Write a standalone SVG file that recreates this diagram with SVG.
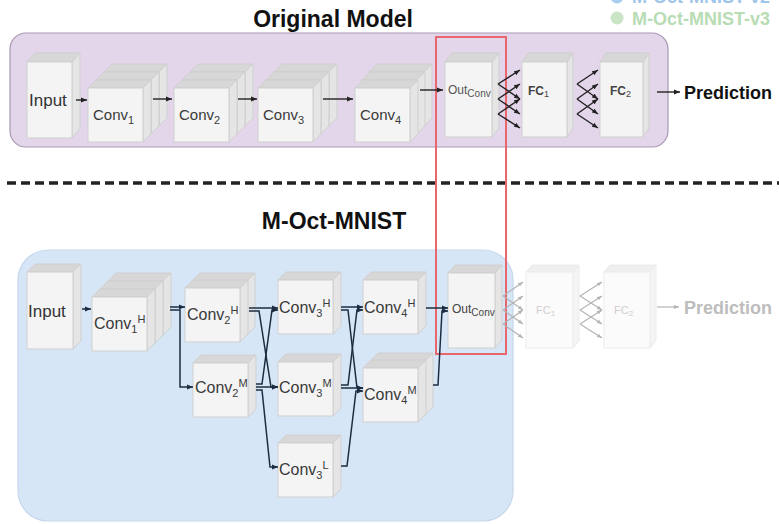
<svg xmlns="http://www.w3.org/2000/svg" xmlns:xlink="http://www.w3.org/1999/xlink" width="779" height="524" viewBox="0 0 779 524">
  <style>
    text { font-family: "Liberation Sans", Arial, sans-serif; }
    .front { fill: #f4f4f4; stroke: #cfcfcf; stroke-width: 1; }
    .top { fill: #d7d7d7; stroke: #cfcfcf; stroke-width: 1; }
    .side { fill: #e5e5e5; stroke: #cfcfcf; stroke-width: 1; }
    .ffront { fill: #fbfbfb; stroke: #ececec; stroke-width: 1; }
    .ftop { fill: #efefef; stroke: #ececec; stroke-width: 1; }
    .fside { fill: #f4f4f4; stroke: #ececec; stroke-width: 1; }
    .lbl { fill: #3a3a3a; font-size: 15px; }
    .lblb { fill: #3a3a3a; font-size: 16px; }
    .title { fill: #111; font-size: 23px; font-weight: bold; text-anchor: middle; }
    .dark { fill: none; stroke: #222; stroke-width: 1.4; marker-end: url(#ahDark); }
    .navy { fill: none; stroke: #1c2d42; stroke-width: 1.5; marker-end: url(#ahNavy); }
    .grey { fill: none; stroke: #b4b4b4; stroke-width: 1.2; marker-end: url(#ahGrey); }
  </style>
  <defs>
    <marker id="ahDark" viewBox="0 0 10 10" refX="10" refY="5" markerWidth="6" markerHeight="6" markerUnits="userSpaceOnUse" orient="auto">
      <path d="M0,1 L10,5 L0,9 z" fill="#222"/>
    </marker>
    <marker id="ahNavy" viewBox="0 0 10 10" refX="10" refY="5" markerWidth="6" markerHeight="6" markerUnits="userSpaceOnUse" orient="auto">
      <path d="M0,1 L10,5 L0,9 z" fill="#1c2d42"/>
    </marker>
    <marker id="ahGrey" viewBox="0 0 10 10" refX="10" refY="5" markerWidth="5" markerHeight="5" markerUnits="userSpaceOnUse" orient="auto">
      <path d="M0,1 L10,5 L0,9 z" fill="#b4b4b4"/>
    </marker>
    <!-- one slab of a convolution block: front face 55x54, depth 8 -->
    <g id="cube">
      <polygon class="top" points="0,0 8,-8 63,-8 55,0"/>
      <polygon class="side" points="55,0 63,-8 63,46 55,54"/>
      <rect class="front" x="0" y="0" width="55" height="54"/>
    </g>
  </defs>

  <!-- legend (top right) -->
  <g id="legend">
    <circle cx="617" cy="-3" r="6.5" fill="#a9cdee"/>
    <text x="632" y="3" font-size="18" font-weight="bold" fill="#9fc6ea">M-Oct-MNIST-v2</text>
    <circle cx="617" cy="18" r="6.5" fill="#c9e5c6"/>
    <text x="632" y="25" font-size="18" font-weight="bold" fill="#b8dcb4">M-Oct-MNIST-v3</text>
  </g>

  <!-- panels -->
  <rect x="10" y="33" width="658" height="114" rx="16" fill="#e3d6ea" stroke="#a898b3" stroke-width="1.2"/>
  <rect x="18" y="250" width="495" height="271" rx="30" fill="#d7e6f7" stroke="#c6d7ec" stroke-width="1.2"/>
  <text class="title" x="333" y="27">Original Model</text>
  <text class="title" x="334" y="229">M-Oct-MNIST</text>
  <line x1="7" y1="183" x2="779" y2="183" stroke="#222" stroke-width="3.5" stroke-dasharray="9 5"/>

  <!-- ===== original model ===== -->
  <g id="orig-input">
    <polygon class="top" points="27,62 35,53 80,53 72,62"/>
    <polygon class="side" points="72,62 80,53 80,129 72,138"/>
    <rect class="front" x="27" y="62" width="45" height="76"/>
    <text x="29" y="106" font-size="17" fill="#333">Input</text>
  </g>
  <g id="orig-conv1">
    <use xlink:href="#cube" x="104" y="72"/><use xlink:href="#cube" x="96" y="80"/><use xlink:href="#cube" x="88" y="88"/>
    <text class="lbl" x="93" y="120">Conv<tspan font-size="11" dy="4">1</tspan></text>
  </g>
  <g id="orig-conv2">
    <use xlink:href="#cube" x="190" y="72"/><use xlink:href="#cube" x="182" y="80"/><use xlink:href="#cube" x="174" y="88"/>
    <text class="lbl" x="179" y="120">Conv<tspan font-size="11" dy="4">2</tspan></text>
  </g>
  <g id="orig-conv3">
    <use xlink:href="#cube" x="274" y="72"/><use xlink:href="#cube" x="266" y="80"/><use xlink:href="#cube" x="258" y="88"/>
    <text class="lbl" x="263" y="120">Conv<tspan font-size="11" dy="4">3</tspan></text>
  </g>
  <g id="orig-conv4">
    <use xlink:href="#cube" x="369" y="72"/><use xlink:href="#cube" x="362" y="80"/><use xlink:href="#cube" x="355" y="88"/>
    <text class="lbl" x="360" y="120">Conv<tspan font-size="11" dy="4">4</tspan></text>
  </g>
  <g id="orig-out">
    <polygon class="top" points="445,62 452,53 499,53 492,62"/>
    <polygon class="side" points="492,62 499,53 499,128 492,137"/>
    <rect class="front" x="445" y="62" width="47" height="75"/>
    <text x="448" y="94" font-size="12" fill="#555">Out<tspan font-size="10" dy="3">Conv</tspan></text>
  </g>
  <g id="orig-fc1">
    <polygon class="top" points="522,62 528,53 573,53 567,62"/>
    <polygon class="side" points="567,62 573,53 573,128 567,137"/>
    <rect class="front" x="522" y="62" width="45" height="75"/>
    <text x="528" y="95" font-size="12" font-weight="bold" fill="#444">FC<tspan font-size="9" font-weight="normal" dy="2">1</tspan></text>
  </g>
  <g id="orig-fc2">
    <polygon class="top" points="600,62 606,53 649,53 643,62"/>
    <polygon class="side" points="643,62 649,53 649,128 643,137"/>
    <rect class="front" x="600" y="62" width="43" height="75"/>
    <text x="610" y="95" font-size="12" font-weight="bold" fill="#444">FC<tspan font-size="9" font-weight="normal" dy="2">2</tspan></text>
  </g>
  <text x="684" y="99" font-size="18" font-weight="bold" fill="#111">Prediction</text>

  <!-- ===== M-Oct-MNIST ===== -->
  <g id="oct-input">
    <polygon class="top" points="27,272 35,264 81,264 73,272"/>
    <polygon class="side" points="73,272 81,264 81,341 73,349"/>
    <rect class="front" x="27" y="272" width="46" height="77"/>
    <text x="28" y="317" font-size="17" fill="#333">Input</text>
  </g>
  <g id="oct-conv1h">
    <use xlink:href="#cube" x="108" y="281"/><use xlink:href="#cube" x="100" y="289"/><use xlink:href="#cube" x="92" y="297"/>
    <text class="lblb" x="94" y="329">Conv<tspan font-size="11" dy="4">1</tspan><tspan font-size="11" dy="-10">H</tspan></text>
  </g>
  <g id="oct-conv2h">
    <use xlink:href="#cube" x="192" y="281"/><use xlink:href="#cube" x="185" y="288"/>
    <text class="lblb" x="187" y="320">Conv<tspan font-size="11" dy="4">2</tspan><tspan font-size="11" dy="-10">H</tspan></text>
  </g>
  <g id="oct-conv2m">
    <use xlink:href="#cube" x="193" y="363"/>
    <text class="lblb" x="195" y="393">Conv<tspan font-size="11" dy="4">2</tspan><tspan font-size="11" dy="-10">M</tspan></text>
  </g>
  <g id="oct-conv3h">
    <use xlink:href="#cube" x="278" y="280"/>
    <text class="lblb" x="279" y="313">Conv<tspan font-size="11" dy="4">3</tspan><tspan font-size="11" dy="-10">H</tspan></text>
  </g>
  <g id="oct-conv3m">
    <use xlink:href="#cube" x="278" y="362"/>
    <text class="lblb" x="279" y="393">Conv<tspan font-size="11" dy="4">3</tspan><tspan font-size="11" dy="-10">M</tspan></text>
  </g>
  <g id="oct-conv3l">
    <use xlink:href="#cube" x="278" y="443"/>
    <text class="lblb" x="279" y="475">Conv<tspan font-size="11" dy="4">3</tspan><tspan font-size="11" dy="-10">L</tspan></text>
  </g>
  <g id="oct-conv4h">
    <use xlink:href="#cube" x="363" y="280"/>
    <text class="lblb" x="364" y="313">Conv<tspan font-size="11" dy="4">4</tspan><tspan font-size="11" dy="-10">H</tspan></text>
  </g>
  <g id="oct-conv4m">
    <use xlink:href="#cube" x="370" y="361"/><use xlink:href="#cube" x="363" y="368"/>
    <text class="lblb" x="364" y="400">Conv<tspan font-size="11" dy="4">4</tspan><tspan font-size="11" dy="-10">M</tspan></text>
  </g>
  <g id="oct-out">
    <polygon class="top" points="448,273 455,265 502,265 495,273"/>
    <polygon class="side" points="495,273 502,265 502,340 495,348"/>
    <rect class="front" x="448" y="273" width="47" height="75"/>
    <text x="452" y="313" font-size="12" fill="#444">Out<tspan font-size="10" dy="3">Conv</tspan></text>
  </g>
  <g id="oct-fc1">
    <polygon class="ftop" points="526,272 532,265 579,265 573,272"/>
    <polygon class="fside" points="573,272 579,265 579,341 573,348"/>
    <rect class="ffront" x="526" y="272" width="47" height="76"/>
    <text x="536" y="314" font-size="11" fill="#cfcfcf">FC<tspan font-size="8" dy="2">1</tspan></text>
  </g>
  <g id="oct-fc2">
    <polygon class="ftop" points="604,272 610,265 656,265 650,272"/>
    <polygon class="fside" points="650,272 656,265 656,341 650,348"/>
    <rect class="ffront" x="604" y="272" width="46" height="76"/>
    <text x="614" y="314" font-size="11" fill="#cfcfcf">FC<tspan font-size="8" dy="2">2</tspan></text>
  </g>
  <text x="684" y="314" font-size="18" font-weight="bold" fill="#bdbdbd">Prediction</text>

  <!-- highlighted output stage -->
  <rect x="436" y="37" width="70" height="317" fill="none" stroke="#e8676d" stroke-width="2"/>

  <!-- connectors -->
  <g id="connectors">
    <!-- original model -->
    <path class="dark" d="M76,100 H87"/>
    <path class="dark" d="M153,99 H172"/>
    <path class="dark" d="M238,99 H257"/>
    <path class="dark" d="M323,99 H353"/>
    <path class="dark" d="M420,90 H443"/>
    <path class="dark" d="M498,84 L520,70"/>
    <path class="dark" d="M498,84 L520,99"/>
    <path class="dark" d="M498,99 L520,84"/>
    <path class="dark" d="M498,99 L520,114"/>
    <path class="dark" d="M498,114 L520,99"/>
    <path class="dark" d="M498,114 L520,128"/>
    <path class="dark" d="M577,84 L598,70"/>
    <path class="dark" d="M577,84 L598,99"/>
    <path class="dark" d="M577,99 L598,84"/>
    <path class="dark" d="M577,99 L598,114"/>
    <path class="dark" d="M577,114 L598,99"/>
    <path class="dark" d="M577,114 L598,128"/>
    <path class="dark" d="M657,92 H680"/>

    <!-- M-Oct-MNIST -->
    <path class="navy" d="M82,309 H91"/>
    <path class="navy" d="M170,307 H185"/>
    <path class="navy" d="M170,310 H180 V387 H193"/>
    <path class="navy" d="M249,308 H278"/>
    <path class="navy" d="M249,311 H259 L271,387 H278"/>
    <path class="navy" d="M256,384 H262 L272,310 H278"/>
    <path class="navy" d="M256,387 H278"/>
    <path class="navy" d="M256,390 H262 L270,467 H278"/>
    <path class="navy" d="M341,307 H363"/>
    <path class="navy" d="M341,310 H348 L357,388 H363"/>
    <path class="navy" d="M341,385 H348 L357,310 H363"/>
    <path class="navy" d="M341,388 H363"/>
    <path class="navy" d="M341,466 H347 L356,391 H363"/>
    <path class="navy" d="M426,308 H448"/>
    <path class="navy" d="M433,385 H438 L442,311 H448"/>

    <path class="grey" d="M503,296 L523,282"/>
    <path class="grey" d="M503,296 L523,310"/>
    <path class="grey" d="M503,310 L523,296"/>
    <path class="grey" d="M503,310 L523,324"/>
    <path class="grey" d="M503,324 L523,310"/>
    <path class="grey" d="M503,324 L523,338"/>
    <path class="grey" d="M580,296 L602,282"/>
    <path class="grey" d="M580,296 L602,310"/>
    <path class="grey" d="M580,310 L602,296"/>
    <path class="grey" d="M580,310 L602,324"/>
    <path class="grey" d="M580,324 L602,310"/>
    <path class="grey" d="M580,324 L602,338"/>
    <path class="grey" d="M657,307 H679"/>
  </g>
</svg>
